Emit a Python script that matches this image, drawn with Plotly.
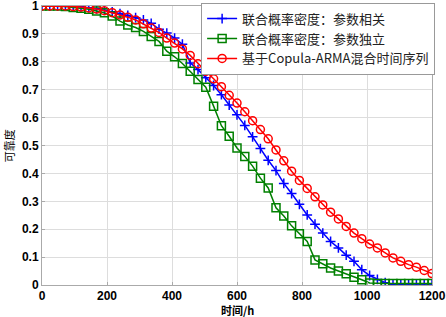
import plotly.graph_objects as go

hours = list(range(0, 1201, 24))

r_corr = [1.0, 1.0, 1.0, 1.0, 0.999, 0.997, 0.994, 0.990, 0.985, 0.979, 0.973, 0.966, 0.958,
          0.950, 0.938, 0.917, 0.903, 0.885, 0.863, 0.796, 0.772, 0.743, 0.715, 0.682, 0.645,
          0.610, 0.572, 0.531, 0.489, 0.447, 0.410, 0.364, 0.328, 0.289, 0.251, 0.218, 0.186,
          0.156, 0.133, 0.107, 0.085, 0.055, 0.034, 0.020, 0.008, 0.003, 0.001, 0.0, 0.0, 0.0, 0.0]

r_indep = [1.0, 1.0, 1.0, 0.998, 0.995, 0.992, 0.988, 0.982, 0.976, 0.964, 0.946, 0.932, 0.923,
           0.909, 0.891, 0.873, 0.838, 0.818, 0.794, 0.766, 0.737, 0.709, 0.641, 0.571, 0.533,
           0.491, 0.461, 0.426, 0.383, 0.348, 0.277, 0.247, 0.212, 0.184, 0.156, 0.090, 0.076,
           0.061, 0.050, 0.040, 0.028, 0.019, 0.007, 0.005, 0.005, 0.005, 0.005, 0.005, 0.005, 0.005, 0.005]

r_copula = [1.0, 1.0, 1.0, 1.0, 0.998, 0.996, 0.993, 0.989, 0.983, 0.976, 0.968, 0.960, 0.950,
            0.936, 0.921, 0.905, 0.885, 0.867, 0.846, 0.823, 0.793, 0.766, 0.739, 0.711, 0.680,
            0.652, 0.621, 0.589, 0.557, 0.524, 0.484, 0.445, 0.408, 0.375, 0.346, 0.316, 0.287,
            0.261, 0.237, 0.210, 0.186, 0.166, 0.147, 0.133, 0.115, 0.097, 0.085, 0.073, 0.064, 0.052, 0.041]

names = ["联合概率密度：参数相关", "联合概率密度：参数独立", "基于Copula-ARMA混合时间序列"]
x_ticks = [0, 200, 400, 600, 800, 1000, 1200]
y_ticks = [0, 0.1, 0.2, 0.3, 0.4, 0.5, 0.6, 0.7, 0.8, 0.9, 1]
y_text = ["0", "0.1", "0.2", "0.3", "0.4", "0.5", "0.6", "0.7", "0.8", "0.9", "1"]

fig = go.Figure()
fig.add_trace(go.Scatter(x=hours, y=r_corr, name=names[0], mode="lines+markers",
                         line=dict(color="#0000FF", width=1.5),
                         marker=dict(symbol="cross-thin-open", size=7, line=dict(color="#0000FF", width=1.5))))
fig.add_trace(go.Scatter(x=hours, y=r_indep, name=names[1], mode="lines+markers",
                         line=dict(color="#008000", width=1.5),
                         marker=dict(symbol="square-open", size=8, color="#008000", line=dict(color="#008000", width=1.5))))
fig.add_trace(go.Scatter(x=hours, y=r_copula, name=names[2], mode="lines+markers",
                         line=dict(color="#FF0000", width=1.5),
                         marker=dict(symbol="circle-open", size=8, color="#FF0000", line=dict(color="#FF0000", width=1.5))))

tick_font = dict(family="Arial, Liberation Sans, sans-serif", size=12, color="black", weight="bold")
fig.update_layout(
    width=446, height=317,
    margin=dict(l=42, r=14, t=6, b=32, autoexpand=False),
    paper_bgcolor="white", plot_bgcolor="white",
    showlegend=True,
    legend=dict(x=1.008, y=1.012, xanchor="right", yanchor="top",
                bgcolor="white", bordercolor="#999999", borderwidth=1,
                font=dict(family="Noto Sans CJK SC, Arial", size=13, color="#222222"),
                tracegroupgap=0, itemwidth=30),
    xaxis=dict(range=[0, 1200], tickvals=x_ticks, showgrid=True, gridcolor="#DDDDDD", gridwidth=1,
               showline=True, linecolor="#AAAAAA", linewidth=1, mirror=True,
               ticks="inside", ticklen=3, tickcolor="#AAAAAA", ticklabeloverflow="allow",
               tickfont=tick_font, automargin=False, zeroline=False),
    yaxis=dict(range=[0, 1], tickvals=y_ticks, ticktext=y_text, showgrid=True, gridcolor="#DDDDDD", gridwidth=1,
               showline=True, linecolor="#AAAAAA", linewidth=1, mirror=True,
               ticks="inside", ticklen=3, tickcolor="#AAAAAA", ticklabeloverflow="allow",
               tickfont=tick_font, automargin=False, zeroline=False),
    annotations=[
        dict(text="<b>时间/h</b>", xref="paper", yref="paper", x=0.5, y=-0.088, xanchor="center", yanchor="middle",
             showarrow=False, borderpad=0, font=dict(family="Noto Sans CJK SC, Arial", size=11, color="black")),
        dict(text="可靠度", xref="paper", yref="paper", x=-0.085, y=0.5, xanchor="center", yanchor="middle",
             textangle=-90, showarrow=False, font=dict(family="Noto Sans CJK SC, Arial", size=11, color="black")),
    ],
)
fig.write_html("out.html", config={"displayModeBar": False},
               post_script="document.body.style.margin='0';document.body.style.padding='0';")
